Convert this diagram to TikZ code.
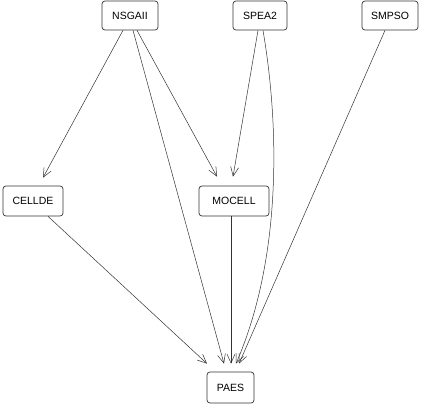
\documentclass[tikz,border=0pt]{standalone}
\usepackage{fontspec}
\setmainfont{Liberation Sans}
\usetikzlibrary{arrows.meta,calc}
\begin{document}
\begin{tikzpicture}[x=1pt,y=-1pt,
  algo/.style={draw=black!80,line width=0.7pt,rounded corners=3pt,minimum height=29pt,inner sep=0pt,font=\fontsize{10.5}{12}\selectfont},
  edge/.style={draw=black!80,line width=0.5pt,-{Straight Barb[length=9pt,width=8pt,line width=0.5pt]}}]
\useasboundingbox (0,0) rectangle (422,404);
\node[algo,minimum width=56pt] (nsga) at (130,15.5) {NSGAII};
\node[algo,minimum width=54pt] (spea) at (260,15.5) {SPEA2};
\node[algo,minimum width=56pt] (smpso) at (390,15.5) {SMPSO};
\node[algo,minimum width=60pt,minimum height=30pt] (cell) at (33,201) {CELLDE};
\node[algo,minimum width=70pt,minimum height=30pt] (moc) at (234,201) {MOCELL};
\node[algo,minimum width=47pt,minimum height=31pt] (paes) at (230.5,387.5) {PAES};
\draw[edge] ($(nsga.south)+(-7,0)$) -- ($(cell.north)+(10,-8)$);
\draw[edge] ($(nsga.south)+(7,0)$) -- ($(moc.north)+(-17,-9)$);
\draw[edge] ($(nsga.south)+(3,0)$) -- ($(paes.north)+(-6.5,-8)$);
\draw[edge] ($(spea.south)+(-2,0)$) -- ($(moc.north)+(-1,-9)$);
\draw[edge] ($(spea.south)+(3,0)$) .. controls (280,130) and (281,260) .. ($(paes.north)+(5.5,-8)$);
\draw[edge] ($(smpso.south)+(-5,0)$) -- ($(paes.north)+(8.5,-8)$);
\draw[edge] ($(cell.south)+(15,0)$) -- ($(paes.north)+(-23.5,-8)$);
\draw[edge] ($(moc.south)+(-3,0)$) -- ($(paes.north)+(0.5,-8)$);
\end{tikzpicture}
\end{document}
